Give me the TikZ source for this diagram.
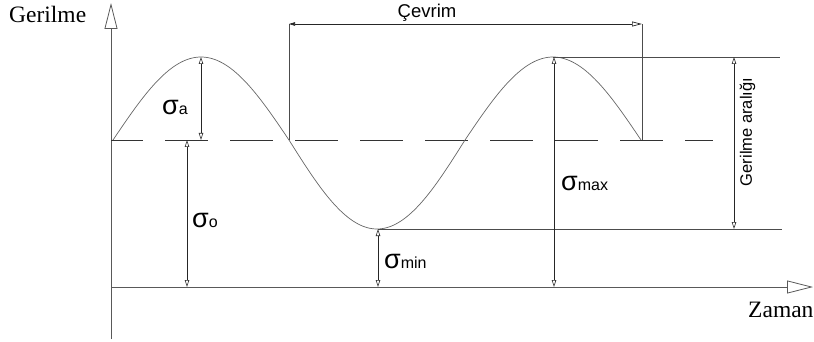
\documentclass[tikz,border=0pt]{standalone}
\usepackage{fontspec}
\setmainfont{Liberation Serif}
\newfontfamily\arialf{Liberation Sans}
\newcommand\subsz{\fontsize{16}{16}\selectfont}
\usetikzlibrary{arrows.meta}
\begin{document}
\begin{tikzpicture}[x=1pt,y=-1pt,
  axisline/.style={draw=black!65, line width=0.8pt},
  bigtip/.style={-{Triangle[open,length=26pt,width=13pt,line width=0.8pt]}},
  curveline/.style={draw=black!60, line width=0.7pt},
  refline/.style={draw=black!70, line width=0.8pt},
  meanline/.style={draw=black!80, line width=0.8pt, dash pattern=on 43pt off 22pt, dash phase=11pt},
  dimline/.style={draw=black!85, line width=0.6pt,
    {Triangle[open,length=7pt,width=4.5pt]}-{Triangle[open,length=7pt,width=4.5pt]}},
  sig/.style={inner sep=0pt, anchor=base west, font=\arialf\fontsize{27}{27}\selectfont},
  serlabel/.style={inner sep=0pt, anchor=base west, font=\fontsize{23.5}{23.5}\selectfont},
  sanslabel/.style={inner sep=0pt, font=\arialf\fontsize{18.5}{18.5}\selectfont}
]
\useasboundingbox (0,0) rectangle (814,342);
% axes
\coordinate (O) at (111,287);
\coordinate (Ybot) at (111,339);
\coordinate (Ytop) at (111,3);
\coordinate (Xend) at (813,287);
\draw[axisline,bigtip] (Ybot) -- (Ytop);
\draw[axisline,bigtip] (O) -- (Xend);
% mean line
\coordinate (M0) at (111,140);
\coordinate (M1) at (713,140);
\draw[meanline] (M0) -- (M1);
% curve
\draw[curveline] plot[domain=113:641, samples=240, smooth]
  (\x, {140 - (sin((\x-113)/352*360) > 0 ? 83 : 89)*sin((\x-113)/352*360)});
% max and min lines
\coordinate (P2) at (553,57);
\coordinate (Pmaxend) at (780,57);
\coordinate (T1) at (378,229);
\coordinate (Tminend) at (782,229);
\draw[refline] (P2) -- (Pmaxend);
\draw[refline] (T1) -- (Tminend);
% cycle
\coordinate (C0) at (289,140);
\coordinate (C0t) at (289,24);
\coordinate (C1) at (642,140);
\coordinate (C1t) at (642,24);
\draw[refline] (C0) -- (C0t);
\draw[refline] (C1) -- (C1t);
\draw[draw=black!85, line width=0.7pt,
  {Triangle[length=6pt,width=3.5pt]}-{Triangle[open,length=10pt,width=5pt]}] (C0t) -- (C1t);
\node[sanslabel, anchor=base] (cev) at (427,18) {Çevrim};
% dimension arrows
\coordinate (Aa) at (201,57);   \coordinate (Ab) at (201,140);
\draw[dimline] (Aa) -- (Ab);
\coordinate (Oa) at (187,140);  \coordinate (Ob) at (187,287);
\draw[dimline] (Oa) -- (Ob);
\coordinate (Na) at (378,229);  \coordinate (Nb) at (378,287);
\draw[dimline] (Na) -- (Nb);
\coordinate (Xa) at (554,57);   \coordinate (Xb) at (554,287);
\draw[dimline] (Xa) -- (Xb);
\coordinate (Ra) at (734,57);   \coordinate (Rb) at (734,229);
\draw[dimline] (Ra) -- (Rb);
% labels
\node[sig] (sa) at (162,115) {σ{\subsz a}};
\node[sig] (so) at (192,227) {σ{\subsz o}};
\node[sig] (smin) at (384,268) {σ{\subsz min}};
\node[sig] (smax) at (561,190) {σ{\subsz max}};
\node[sanslabel, font=\arialf\fontsize{16.5}{16.5}\selectfont, rotate=90] (ga) at (747.5,132) {Gerilme aralığı};
\node[serlabel] (ger) at (9,23) {Gerilme};
\node[serlabel] (zam) at (748,317) {Zaman};
\end{tikzpicture}
\end{document}
